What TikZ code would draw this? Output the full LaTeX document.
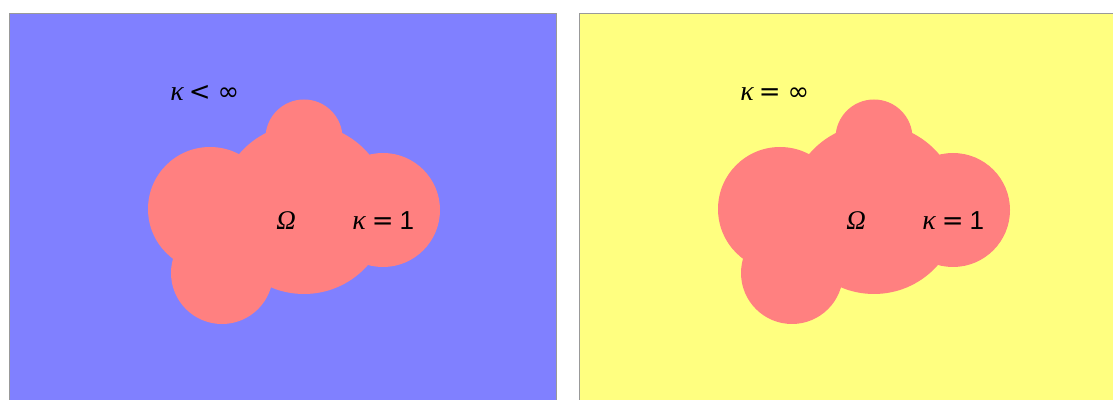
\documentclass[tikz,border=0pt]{standalone}
\usepackage{fontspec}
\setmainfont{Liberation Sans}
\newfontfamily\greekfont{Liberation Serif}
\newfontfamily\symbfont{DejaVu Sans}
\newcommand{\kap}{{\greekfont\itshape\fontsize{14}{16}\selectfont κ}}
\definecolor{outerblue}{RGB}{128,128,255}
\definecolor{outeryellow}{RGB}{255,255,128}
\definecolor{omegared}{RGB}{255,128,128}

\begin{document}
\begin{tikzpicture}[
  x=0.5pt, y=-0.5pt,
  panel/.style={draw=black!40, line width=0.5pt},
  blob/.style={fill=omegared},
  lbl/.style={anchor=base west, inner sep=0pt, font=\fontsize{13}{15}\selectfont}
]
\useasboundingbox (0,0) rectangle (1113,400);
\clip (0,0) rectangle (1113,400);

% two panels: outer region kappa < infinity and kappa = infinity
\foreach \dx/\col/\rel/\nm in {0/outerblue/{<}/left, 570/outeryellow/{=}/right}{
  \begin{scope}[xshift=\dx*0.5pt]
    \filldraw[panel, fill=\col] (9.5,13.5) rectangle (556,420);
    % the domain Omega as a union of discs
    \fill[blob] (304,209) circle (85)
                (304,138) circle (38.5)
                (210,209) circle (62)
                (383,210) circle (57)
                (222,273) circle (51);
    \node[lbl] (outer-\nm) at (170,101)
      {\kap\hspace{2.5pt}{\symbfont\fontsize{13}{14}\selectfont\rel}\hspace{3.5pt}{\symbfont\fontsize{13}{14}\selectfont ∞}};
    \node[lbl] (omega-\nm) at (276,230) {{\greekfont\itshape\fontsize{13.5}{16}\selectfont Ω}};
    \node[lbl] (inner-\nm) at (352,230)
      {\kap\hspace{3pt}{\symbfont\fontsize{13}{14}\selectfont =}\hspace{3pt}1};
  \end{scope}
}
\end{tikzpicture}
\end{document}
